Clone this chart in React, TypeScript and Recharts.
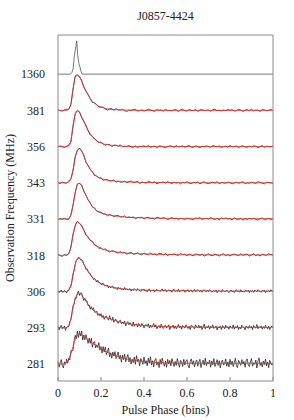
import React from 'react';
import { LineChart, Line, XAxis, YAxis } from 'recharts';

// profiles are stacked: row 0 = 281 MHz at the bottom, row 8 = 1360 MHz at the top
const FREQ_LABELS = ['281', '293', '306', '318', '331', '343', '356', '381', '1360'];
const PHASE_TICKS = [0, 0.2, 0.4, 0.6, 0.8, 1];

// observed profiles, amplitude in % of the peak, bins spread evenly over phase 0..1
// (101 bins for the bright high bands, 201 for the noisy low bands)
const OBS_381 = [
  2, -1, -2, 1, 3, 3, 16, 59, 94, 96,
  93, 83, 64, 53, 44, 32, 22, 21, 16, 9,
  9, 9, 4, 1, 4, 5, 0, 5, 1, 1,
  3, -1, -3, 1, 0, 2, 3, -2, -1, 1,
  -2, 0, 3, 1, -1, -3, 2, 0, 1, -2,
  3, -1, 0, -2, 2, 1, -3, 1, 3, -1,
  -2, 2, 0, -1, 3, -3, 1, 2, -1, 0,
  1, -3, 2, 3, -1, 0, -2, 1, -1, 2,
  0, 2, -2, -1, 3, 1, -3, 0, 2, -1,
  3, -2, 1, 0, -3, 2, 1, -1, 0, 3,
  -1,
];
const OBS_356 = [
  -1, 2, 0, -3, 1, 4, 13, 58, 91, 99,
  96, 80, 70, 59, 44, 32, 29, 21, 17, 10,
  13, 7, 4, 6, 6, 0, 4, 4, 1, 5,
  -1, 1, 0, 3, -1, -2, 2, -3, 1, 0,
  2, -1, 3, -2, 0, 1, -3, 2, 1, -1,
  -3, 0, 2, 1, -2, 3, -1, 0, 2, -2,
  1, 3, -1, -2, 2, 0, -3, 1, -1, 2,
  0, -2, 3, 1, -1, 2, -3, 0, 1, -2,
  3, -1, 0, 2, -3, 1, 2, -1, -2, 1,
  -1, 2, 1, -3, 0, 3, -2, 1, 0, -1,
  2,
];
const OBS_343 = [
  1, -2, 2, 0, -1, 5, 11, 34, 72, 89,
  96, 87, 77, 57, 48, 37, 31, 20, 19, 13,
  14, 7, 9, 9, 5, 5, 8, 2, 5, 2,
  2, 5, 0, 3, 5, 1, 2, 4, -2, 2,
  1, -1, 4, 2, 0, 3, -3, 0, 1, 2,
  -1, 3, 0, -2, 2, -1, 1, -3, 2, 0,
  3, -1, -2, 1, 0, 2, -3, 1, 3, -1,
  -2, 0, 2, -1, 3, -3, 1, 0, -1, 2,
  1, -3, 0, 2, -1, 1, 3, -2, 0, -1,
  2, 0, -2, 3, 1, -1, -3, 2, 1, 0,
  -1,
];
const OBS_331 = [
  -2, 1, 0, 2, -1, -1, 12, 39, 72, 97,
  98, 94, 76, 66, 53, 45, 33, 31, 22, 20,
  19, 14, 14, 9, 13, 10, 7, 9, 10, 6,
  6, 9, 3, 6, 4, 6, 1, 4, 4, 5,
  0, 4, 5, 1, 2, 0, 5, 3, 1, 4,
  2, -1, 1, 4, 0, 3, -2, 2, 1, -1,
  3, 1, 0, -2, 3, 2, 4, -1, 1, 2,
  0, 4, 1, -1, 2, -2, 3, 1, 3, 0,
  1, -2, 3, 0, -1, 2, -3, 1, -1, 2,
  0, 2, -1, -3, 1, 3, -2, 0, 2, -1,
  1,
];
const OBS_318 = [
  3, -1, -3, 2, 0, 4, 23, 59, 81, 94,
  87, 83, 70, 55, 51, 41, 39, 28, 26, 19,
  21, 15, 18, 13, 9, 12, 12, 8, 6, 10,
  6, 8, 3, 6, 8, 3, 4, 7, 3, 1,
  6, 3, 1, 6, 2, 4, 0, 5, 4, 1,
  5, -1, 3, 2, 4, 1, 0, 5, 2, 3,
  -1, 3, 1, -2, 4, 2, 0, 3, -2, 1,
  4, 0, -1, 3, 1, -2, 2, 4, -1, 2,
  -2, 2, 3, 1, -1, 4, 0, 2, 3, -2,
  1, 4, -1, 2, -2, 3, 1, 0, 4, 2,
  1,
];
const OBS_306 = [
  2, -3, 1, 4, -1, -2, 3, 0, -4, 3,
  3, 12, 14, 30, 49, 58, 75, 86, 88, 95,
  93, 87, 88, 85, 74, 70, 61, 63, 56, 50,
  50, 41, 40, 33, 36, 32, 26, 31, 24, 25,
  19, 21, 23, 16, 17, 15, 18, 10, 15, 10,
  14, 15, 8, 11, 9, 5, 12, 8, 10, 5,
  8, 4, 11, 5, 8, 4, 6, 8, 1, 6,
  3, 8, 5, 2, 8, 5, 3, 0, 6, 4,
  7, 1, 4, -1, 5, 7, 0, 3, 2, 5,
  -1, 4, 6, 2, 3, 0, 5, 7, 1, 4,
  5, -1, 2, 5, 1, 3, -2, 4, 6, 0,
  3, 0, 6, -1, 2, 4, 1, 5, -2, 3,
  1, 5, -1, 3, 4, -2, 2, 6, 0, 1,
  5, 2, 0, 4, -2, 3, 5, 1, -1, 4,
  0, 5, 2, -2, 1, 3, 0, 4, -3, 2,
  3, 0, -2, 5, 2, -1, 1, 4, 0, -3,
  1, 4, -1, 2, -3, 3, 5, 0, 2, -2,
  5, -1, 1, -2, 3, 2, 0, 4, -3, 3,
  0, 3, -2, 4, 1, -1, 5, 2, 0, -2,
  3, 1, 4, -3, 2, 0, 3, -1, 5, 1,
  1,
];
const OBS_293 = [
  4, -6, 2, 7, -3, -1, 5, -7, 1, 4,
  3, 18, 21, 41, 61, 65, 82, 81, 96, 101,
  89, 96, 96, 84, 75, 81, 74, 74, 61, 63,
  51, 58, 50, 55, 43, 43, 46, 34, 39, 33,
  39, 28, 34, 23, 30, 33, 25, 21, 33, 24,
  20, 29, 15, 22, 23, 17, 12, 19, 21, 11,
  16, 11, 18, 5, 13, 17, 8, 14, 9, 4,
  16, 4, 8, 11, 2, 12, 5, 3, 12, 7,
  -1, 7, 9, 4, 11, -1, 7, 1, 5, 12,
  2, 8, -3, 3, 6, -1, 10, 2, -2, 5,
  7, -1, 3, 8, -5, 4, 1, 7, -2, 5,
  -3, 2, 9, 0, 5, -4, 6, 3, -1, 8,
  3, -2, 4, -5, 7, 5, 1, -3, 8, 2,
  -1, 7, -1, 5, -5, 2, 10, -3, 3, 0,
  6, -4, 4, 0, 8, -2, 1, 5, -6, 3,
  -1, 4, -5, 6, 2, -3, 7, 0, 3, -4,
  5, 1, -2, 8, -4, 3, -1, 6, -5, 2,
  -3, 7, 3, 0, -6, 5, 2, -2, 6, -1,
  4, -5, 6, 1, -1, 9, -3, 3, 0, 5,
  -4, 3, -2, 7, 0, -3, 4, -5, 2, 5,
  -1,
];
const OBS_281 = [
  7, -9, 3, 12, -5, -11, 6, -1, 14, 2,
  16, 11, 37, 36, 38, 64, 79, 70, 91, 73,
  90, 77, 91, 66, 80, 67, 81, 70, 57, 71,
  57, 71, 46, 60, 62, 44, 53, 46, 59, 38,
  48, 30, 48, 33, 47, 26, 33, 44, 20, 31,
  16, 33, 22, 34, 15, 24, 33, 14, 24, 5,
  25, 12, 27, 6, 17, 26, 6, 18, 0, 13,
  4, 19, -1, 23, 7, 13, -5, 15, 8, -1,
  19, 1, 9, -5, 16, 2, 20, -3, 9, -8,
  10, 15, -3, 6, -10, 13, -1, 16, 2, -6,
  8, -9, 13, 0, 10, -5, 15, 4, -7, 7,
  -4, 15, 0, -9, 10, 5, -7, 13, -3, 8,
  12, -4, -11, 7, 14, -1, 9, -8, 4, 11,
  -6, 6, 13, -10, 3, 10, -3, 16, -5, 5,
  0, 11, -9, 8, -2, 15, -7, 2, 12, -4,
  9, -11, 5, 11, -3, 1, 14, -6, 6, -8,
  13, -2, 8, -7, 4, 16, -5, -10, 10, 3,
  -4, 12, 0, 7, -9, 9, 14, -3, -7, 6,
  15, -6, 3, -1, 11, -11, 7, 17, -4, 4,
  -8, 8, -2, 13, -5, 5, -10, 10, 2, -3,
  0,
];

// 1360 MHz reference profile (narrow, unscattered)
const PHASE_1360 = [0, 0.058, 0.064, 0.07, 0.076, 0.082, 0.087, 0.092, 0.097, 0.102, 0.107, 0.112, 1];
const OBS_1360 = [0, 0, 4, 14, 50, 72, 92, 50, 30, 20, 8, 0, 0];

// scattering fits (red)
const FIT_PHASE = [
  0, 0.03, 0.04, 0.05, 0.06, 0.07, 0.08, 0.09, 0.1, 0.11, 0.12, 0.13,
  0.14, 0.16, 0.18, 0.2, 0.23, 0.26, 0.3, 0.35, 0.4, 0.5, 0.6, 0.8, 1,
];
const FIT_381 = [0, 0, 0, 3, 18, 58, 92, 99, 92, 80, 66, 53, 42, 25, 15, 9, 4, 2, 1, 0, 0, 0, 0, 0, 0];
const FIT_356 = [0, 0, 0, 2, 15, 55, 90, 100, 94, 82, 69, 56, 45, 27, 16, 10, 5, 3, 1, 0, 0, 0, 0, 0, 0];
const FIT_343 = [0, 0, 0, 2, 10, 36, 70, 90, 95, 88, 74, 59, 47, 29, 18, 12, 7, 5, 3, 2, 1, 1, 0, 0, 0];
const FIT_331 = [0, 0, 0, 2, 10, 38, 74, 94, 99, 92, 79, 65, 53, 35, 23, 17, 12, 9, 6, 4, 3, 2, 1, 1, 1];
const FIT_318 = [0, 0, 0, 6, 22, 55, 82, 92, 89, 80, 69, 58, 49, 36, 26, 19, 13, 10, 7, 5, 4, 2, 1, 1, 1];
const FIT_306 = [0, 0, 0, 4, 16, 45, 75, 90, 92, 86, 76, 65, 55, 40, 29, 22, 15, 11, 7, 5, 4, 2, 2, 1, 1];
const FIT_293 = [0, 0, 0, 5, 25, 55, 80, 92, 94, 90, 82, 73, 65, 51, 41, 33, 27, 21, 14, 9, 6, 3, 2, 1, 1];
const FIT_281 = [0, 0, 4, 12, 28, 48, 68, 78, 81, 79, 75, 71, 66, 58, 50, 42, 32, 25, 17, 10, 7, 3, 2, 2, 2];

const OBSERVED = [OBS_281, OBS_293, OBS_306, OBS_318, OBS_331, OBS_343, OBS_356, OBS_381];
const FITS = [FIT_281, FIT_293, FIT_306, FIT_318, FIT_331, FIT_343, FIT_356, FIT_381];

const FONT = '"Liberation Serif", "Times New Roman", Times, serif';
const FRAME = '#8c8c8c';
const INK = '#222';

// evenly spaced bin phases for an observed profile
const binPhases = (n: number) => Array.from({ length: n }, (_, k) => k / (n - 1));
// lift a profile (in % of peak) to its row
const toRows = (xs: number[], ys: number[], row: number) =>
  ys.map((v, k) => ({ x: xs[k], y: row + v / 100 }));

const App = () => {
  const tickStyle = { fontFamily: FONT, fontSize: 12, fill: INK };
  return (
    <div style={{ position: 'absolute', left: 0, top: 0, width: 294, height: 420, background: '#fff' }}>
      <div style={{ position: 'absolute', left: 58, width: 215, top: 9, textAlign: 'center', fontFamily: FONT, fontSize: 12, color: INK }}>
        J0857-4424
      </div>
      <LineChart width={294} height={420} margin={{ top: 34, right: 20, bottom: 0, left: 0 }}>
        <XAxis
          xAxisId="b"
          dataKey="x"
          type="number"
          domain={[0, 1]}
          ticks={PHASE_TICKS}
          height={39}
          axisLine={{ stroke: FRAME }}
          tickLine={{ stroke: FRAME }}
          tickSize={-4}
          tickMargin={11}
          tick={tickStyle}
        />
        <XAxis
          xAxisId="t"
          orientation="top"
          dataKey="x"
          type="number"
          domain={[0, 1]}
          ticks={PHASE_TICKS}
          height={1}
          axisLine={{ stroke: FRAME }}
          tickLine={{ stroke: FRAME }}
          tickSize={-4}
          tick={false}
        />
        <YAxis
          yAxisId="l"
          type="number"
          domain={[-0.47, 9.08]}
          ticks={FREQ_LABELS.map((_, i) => i)}
          tickFormatter={(v: number) => FREQ_LABELS[v] ?? ''}
          width={58}
          axisLine={{ stroke: FRAME }}
          tickLine={false}
          tickMargin={7}
          tick={tickStyle}
        />
        <YAxis
          yAxisId="r"
          orientation="right"
          type="number"
          domain={[0, 1]}
          width={1}
          axisLine={{ stroke: FRAME }}
          tickLine={false}
          tick={false}
        />
        <Line
          xAxisId="b"
          yAxisId="l"
          data={toRows(PHASE_1360, OBS_1360, 8)}
          dataKey="y"
          type="linear"
          stroke="#555"
          strokeWidth={0.8}
          dot={false}
          isAnimationActive={false}
        />
        {OBSERVED.map((obs, i) => (
          <Line
            key={`obs-${i}`}
            xAxisId="b"
            yAxisId="l"
            data={toRows(binPhases(obs.length), obs, i)}
            dataKey="y"
            type="linear"
            stroke="#1e1e1e"
            strokeWidth={0.75}
            dot={false}
            isAnimationActive={false}
          />
        ))}
        {FITS.map((fit, i) => (
          <Line
            key={`fit-${i}`}
            xAxisId="b"
            yAxisId="l"
            data={toRows(FIT_PHASE, fit, i)}
            dataKey="y"
            type="monotone"
            stroke="#e0302a"
            strokeWidth={0.8}
            dot={false}
            isAnimationActive={false}
          />
        ))}
      </LineChart>
      <div style={{ position: 'absolute', left: 58, width: 215, top: 403, textAlign: 'center', fontFamily: FONT, fontSize: 12, color: INK }}>
        Pulse Phase (bins)
      </div>
      <div
        style={{
          position: 'absolute',
          left: 10,
          top: 208,
          transform: 'translate(-50%, -50%) rotate(-90deg)',
          whiteSpace: 'nowrap',
          fontFamily: FONT,
          fontSize: 12,
          color: INK,
        }}
      >
        Observation Frequency (MHz)
      </div>
    </div>
  );
};

export default App;
